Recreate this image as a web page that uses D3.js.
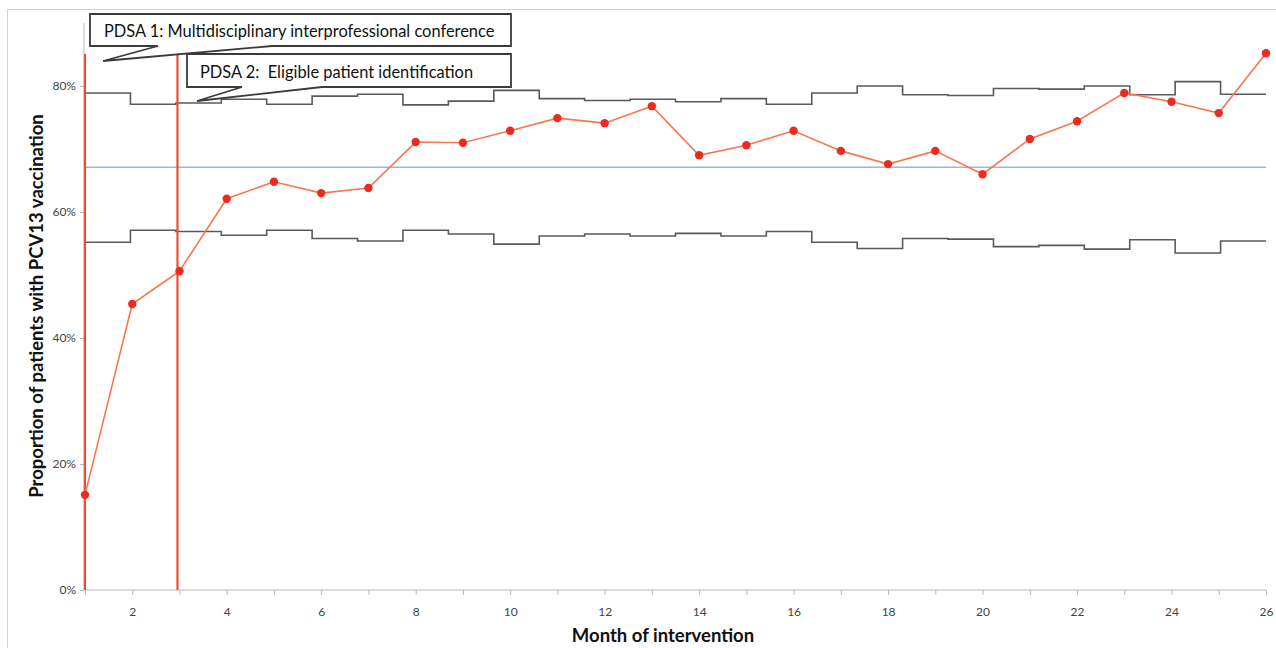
<!DOCTYPE html>
<html>
<head>
<meta charset="utf-8">
<script src="https://cdn.jsdelivr.net/npm/d3@7"></script>
<style>
  body { margin: 0; background: #fff; }
  svg { display: block; font-family: Lato, "Open Sans", sans-serif; }
</style>
</head>
<body>
<svg></svg>
<script>
const MONTHS = d3.range(1, 27);
const PROPORTION = [15.1, 45.4, 50.6, 62.1, 64.8, 63.0, 63.8, 71.1, 71.0, 72.9, 74.9, 74.1, 76.8,
    69.0, 70.6, 72.9, 69.7, 67.6, 69.7, 66.0, 71.6, 74.4, 78.9, 77.5, 75.7, 85.2];
const CENTER_LINE = 67.1;
const UPPER_LIMIT = [78.9, 77.1, 77.3, 77.9, 77.1, 78.4, 78.7, 77.0, 77.6, 79.3, 78.0, 77.7, 77.9,
    77.5, 78.0, 77.1, 78.9, 80.0, 78.6, 78.5, 79.6, 79.5, 80.0, 78.6, 80.7, 78.7];
const LOWER_LIMIT = [55.2, 57.1, 56.9, 56.3, 57.1, 55.8, 55.4, 57.1, 56.5, 54.9, 56.2, 56.5, 56.2,
    56.6, 56.2, 56.9, 55.2, 54.2, 55.8, 55.7, 54.5, 54.7, 54.1, 55.6, 53.5, 55.4];
const PDSA_MONTHS = [1, 3];
const PDSA_LABELS = [
    'PDSA 1: Multidisciplinary interprofessional conference',
    'PDSA 2:\u00a0 Eligible patient identification',
];
const Y_TICKS = [0, 20, 40, 60, 80];
const X_LABELS = d3.range(2, 27, 2);

const WIDTH = 1276;
const HEIGHT = 648;
const PLOT = {left: 85, right: 1266, top: 23, bottom: 590};

const xScale = d3.scaleLinear()
    .domain([1, 26])
    .range([PLOT.left, PLOT.right]);

// control limits are drawn as 26 equal steps over the whole axis
const stepScale = d3.scaleLinear()
    .domain([0, UPPER_LIMIT.length])
    .range([PLOT.left, PLOT.right]);

const yScale = d3.scaleLinear()
    .domain([0, 90])
    .range([PLOT.bottom, PLOT.top]);

const svg = d3.select('svg')
    .attr('width', WIDTH)
    .attr('height', HEIGHT);

// chart frame
svg.append('rect')
    .attr('x', 7.5)
    .attr('y', 9.5)
    .attr('width', WIDTH)
    .attr('height', HEIGHT)
    .attr('fill', 'none')
    .attr('stroke', '#d4d4d4');

// axes
const yAxis = svg.append('g')
    .attr('transform', `translate(${PLOT.left - 1}, 0)`)
    .call(d3.axisLeft(yScale).tickValues(Y_TICKS).tickSize(4).tickPadding(4)
        .tickFormat(d => d + '%'));
yAxis.select('.domain').attr('stroke', '#b8b8b8').attr('d', `M0,${PLOT.top}V${PLOT.bottom}`);
yAxis.selectAll('line').attr('stroke', '#b8b8b8');
yAxis.selectAll('text')
    .attr('fill', '#444')
    .attr('font-size', 12)
    .attr('font-family', 'Lato, sans-serif');

const xAxis = svg.append('g')
    .attr('transform', `translate(0, ${PLOT.bottom})`)
    .call(d3.axisBottom(xScale).tickValues(MONTHS).tickSize(5).tickPadding(12)
        .tickFormat(d => X_LABELS.includes(d) ? d : ''));
xAxis.select('.domain').attr('stroke', '#b8b8b8').attr('d', `M${PLOT.left},0H${PLOT.right}`);
xAxis.selectAll('line').attr('stroke', '#b8b8b8');
xAxis.selectAll('text')
    .attr('fill', '#444')
    .attr('font-size', 12)
    .attr('font-family', 'Lato, sans-serif');

// axis titles
svg.append('text')
    .attr('transform', 'translate(43, 306) rotate(-90)')
    .attr('text-anchor', 'middle')
    .attr('font-size', 18.5)
    .attr('font-weight', 'bold')
    .attr('fill', '#111')
    .text('Proportion of patients with PCV13 vaccination');

svg.append('text')
    .attr('x', 663)
    .attr('y', 642)
    .attr('text-anchor', 'middle')
    .attr('font-size', 18.5)
    .attr('font-weight', 'bold')
    .attr('fill', '#111')
    .text('Month of intervention');

// control limits
const stepLine = d3.line()
    .x(d => stepScale(d[0]))
    .y(d => yScale(d[1]))
    .curve(d3.curveStepAfter);

[UPPER_LIMIT, LOWER_LIMIT].forEach(limit => {
    const points = limit.map((v, i) => [i, v]);
    points.push([limit.length, limit[limit.length - 1]]);
    svg.append('path')
        .attr('d', stepLine(points))
        .attr('fill', 'none')
        .attr('stroke', '#5a5a5a')
        .attr('stroke-width', 1.6);
});

// center line
svg.append('line')
    .attr('x1', xScale(1))
    .attr('x2', xScale(26))
    .attr('y1', yScale(CENTER_LINE))
    .attr('y2', yScale(CENTER_LINE))
    .attr('stroke', '#9fb2e3')
    .attr('stroke-width', 1.6);

// PDSA cycle start lines
svg.selectAll('.pdsa')
    .data(PDSA_MONTHS)
    .enter()
    .append('line')
    .classed('pdsa', true)
    .attr('x1', d => xScale(d) - (d > 1 ? 2 : 0))
    .attr('x2', d => xScale(d) - (d > 1 ? 2 : 0))
    .attr('y1', 54)
    .attr('y2', PLOT.bottom)
    .attr('stroke', '#ec4e34')
    .attr('stroke-width', 2.2);

// data
const dataLine = d3.line()
    .x((d, i) => xScale(MONTHS[i]))
    .y(d => yScale(d));

svg.append('path')
    .attr('d', dataLine(PROPORTION))
    .attr('fill', 'none')
    .attr('stroke', '#f7774f')
    .attr('stroke-width', 1.6);

svg.selectAll('.dot')
    .data(PROPORTION)
    .enter()
    .append('circle')
    .classed('dot', true)
    .attr('cx', (d, i) => xScale(MONTHS[i]))
    .attr('cy', d => yScale(d))
    .attr('r', 4.2)
    .attr('fill', '#ec2a1f');

// callouts
const CALLOUTS = [
    {box: [90, 14, 511, 46], text: [104, 37], wedge: [[158, 46], [103, 61], [272, 46]]},
    {box: [187, 54, 511, 87], text: [200, 78], wedge: [[242, 87], [197, 101], [322, 87]]},
];

CALLOUTS.forEach((c, i) => {
    const [x0, y0, x1, y1] = c.box;
    const [a, tip, b] = c.wedge;
    const g = svg.append('g');
    g.append('path')
        .attr('d', `M${x0},${y0}H${x1}V${y1}H${b[0]}L${tip[0]},${tip[1]}L${a[0]},${a[1]}H${x0}Z`)
        .attr('fill', '#fff')
        .attr('stroke', '#3a3a3a')
        .attr('stroke-width', 1.8)
        .attr('stroke-linejoin', 'miter');
    g.append('text')
        .attr('x', c.text[0])
        .attr('y', c.text[1])
        .attr('font-size', 16.4)
        .attr('fill', '#111')
        .text(PDSA_LABELS[i]);
});
</script>
</body>
</html>
